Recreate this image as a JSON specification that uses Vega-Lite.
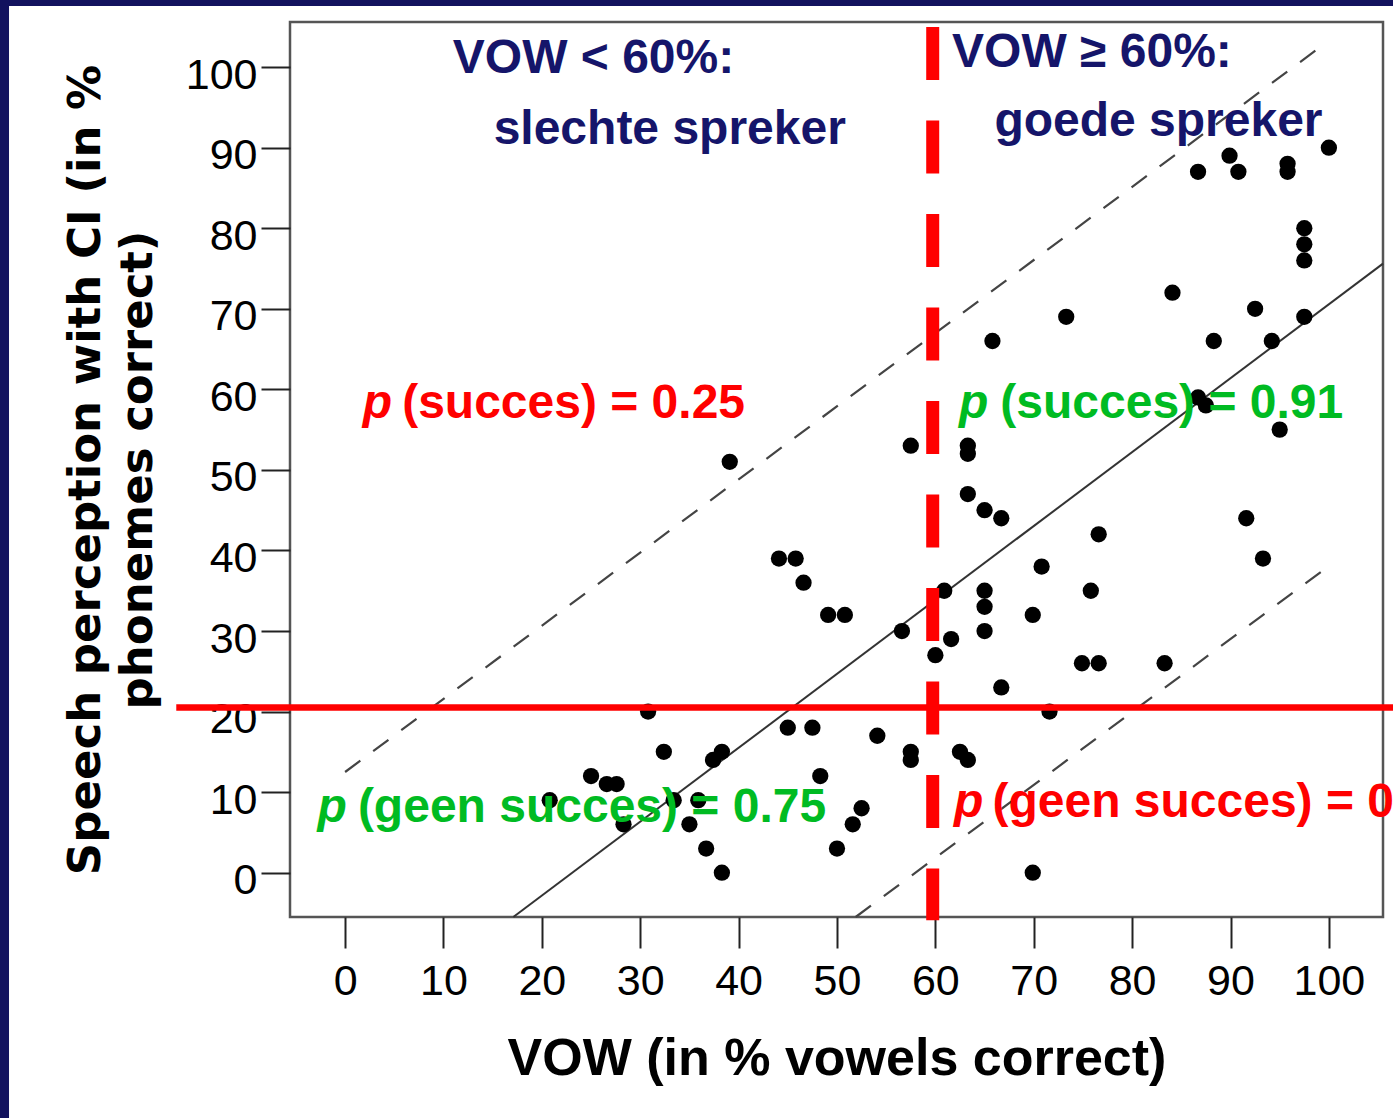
{
  "$schema": "https://vega.github.io/schema/vega-lite/v6.json",
  "width": 1093,
  "height": 895,
  "autosize": {"type": "none"},
  "padding": {"left": 290, "top": 22, "right": 10, "bottom": 201},
  "background": "white",
  "datasets": {
    "points": [
      {"vow": 39.1, "perc": 51}, {"vow": 57.5, "perc": 53}, {"vow": 44.1, "perc": 39}, {"vow": 45.8, "perc": 39},
      {"vow": 46.6, "perc": 36}, {"vow": 49.1, "perc": 32}, {"vow": 50.8, "perc": 32}, {"vow": 56.6, "perc": 30},
      {"vow": 60.0, "perc": 27}, {"vow": 30.8, "perc": 20}, {"vow": 45.0, "perc": 18}, {"vow": 47.5, "perc": 18},
      {"vow": 54.1, "perc": 17}, {"vow": 32.4, "perc": 15}, {"vow": 38.3, "perc": 15}, {"vow": 37.4, "perc": 14},
      {"vow": 57.5, "perc": 15}, {"vow": 57.5, "perc": 14}, {"vow": 25.0, "perc": 12}, {"vow": 26.6, "perc": 11},
      {"vow": 27.6, "perc": 11}, {"vow": 48.3, "perc": 12}, {"vow": 20.8, "perc": 9}, {"vow": 33.4, "perc": 9},
      {"vow": 35.9, "perc": 9}, {"vow": 28.3, "perc": 6}, {"vow": 35.0, "perc": 6}, {"vow": 52.5, "perc": 8},
      {"vow": 51.6, "perc": 6}, {"vow": 36.7, "perc": 3}, {"vow": 50.0, "perc": 3}, {"vow": 38.3, "perc": 0},
      {"vow": 63.3, "perc": 53}, {"vow": 63.3, "perc": 52}, {"vow": 95.0, "perc": 55}, {"vow": 63.3, "perc": 47},
      {"vow": 65.0, "perc": 45}, {"vow": 66.7, "perc": 44}, {"vow": 91.6, "perc": 44}, {"vow": 76.6, "perc": 42},
      {"vow": 93.3, "perc": 39}, {"vow": 70.8, "perc": 38}, {"vow": 60.9, "perc": 35}, {"vow": 65.0, "perc": 35},
      {"vow": 65.0, "perc": 33}, {"vow": 75.8, "perc": 35}, {"vow": 69.9, "perc": 32}, {"vow": 61.6, "perc": 29},
      {"vow": 65.0, "perc": 30}, {"vow": 74.9, "perc": 26}, {"vow": 76.6, "perc": 26}, {"vow": 83.3, "perc": 26},
      {"vow": 66.7, "perc": 23}, {"vow": 71.6, "perc": 20}, {"vow": 62.5, "perc": 15}, {"vow": 63.3, "perc": 14},
      {"vow": 69.9, "perc": 0}, {"vow": 100.0, "perc": 90}, {"vow": 89.9, "perc": 89}, {"vow": 86.7, "perc": 87},
      {"vow": 90.8, "perc": 87}, {"vow": 95.8, "perc": 88}, {"vow": 95.8, "perc": 87}, {"vow": 97.5, "perc": 80},
      {"vow": 97.5, "perc": 78}, {"vow": 97.5, "perc": 76}, {"vow": 84.1, "perc": 72}, {"vow": 92.5, "perc": 70},
      {"vow": 73.3, "perc": 69}, {"vow": 97.5, "perc": 69}, {"vow": 65.8, "perc": 66}, {"vow": 88.3, "perc": 66},
      {"vow": 94.2, "perc": 66}, {"vow": 86.7, "perc": 59}, {"vow": 87.5, "perc": 58}
    ],
    "fits": [
      {"line": "fit", "vow": 17.1, "perc": -5.5}, {"line": "fit", "vow": 105.5, "perc": 75.6},
      {"line": "upper", "vow": 0, "perc": 12.5}, {"line": "upper", "vow": 99.9, "perc": 103.2},
      {"line": "lower", "vow": 51.9, "perc": -5.5}, {"line": "lower", "vow": 99.7, "perc": 37.8}
    ],
    "one": [{}]
  },
  "layer": [
    {
      "data": {"name": "one"},
      "mark": {"type": "rect", "color": "#12125e"},
      "encoding": {
        "x": {"datum": -40, "type": "quantitative"}, "x2": {"datum": -34.16},
        "y": {"datum": -40, "type": "quantitative"}, "y2": {"datum": 115}
      }
    },
    {
      "data": {"name": "one"},
      "mark": {"type": "rect", "color": "#12125e"},
      "encoding": {
        "x": {"datum": -40, "type": "quantitative"}, "x2": {"datum": 115},
        "y": {"datum": 107.6, "type": "quantitative"}, "y2": {"datum": 115}
      }
    },
    {
      "data": {"name": "fits"},
      "transform": [{"filter": "datum.line === 'fit'"}],
      "mark": {"type": "line", "color": "#333333", "strokeWidth": 2},
      "encoding": {
        "x": {"field": "vow", "type": "quantitative"},
        "y": {"field": "perc", "type": "quantitative"},
        "detail": {"field": "line"}
      }
    },
    {
      "data": {"name": "fits"},
      "transform": [{"filter": "datum.line !== 'fit'"}],
      "mark": {"type": "line", "color": "#444444", "strokeWidth": 2.2, "strokeDash": [19, 16]},
      "encoding": {
        "x": {"field": "vow", "type": "quantitative"},
        "y": {"field": "perc", "type": "quantitative"},
        "detail": {"field": "line"}
      }
    },
    {
      "data": {"name": "points"},
      "mark": {"type": "circle", "color": "#000000", "size": 265, "opacity": 1},
      "encoding": {
        "x": {
          "field": "vow", "type": "quantitative",
          "scale": {"domain": [-5.6, 105.5], "nice": false, "zero": false},
          "axis": {"title": "VOW (in % vowels correct)", "values": [0, 10, 20, 30, 40, 50, 60, 70, 80, 90, 100]}
        },
        "y": {
          "field": "perc", "type": "quantitative",
          "scale": {"domain": [-5.5, 105.6], "nice": false, "zero": false},
          "axis": {"title": ["Speech perception with CI (in %", "phonemes correct)"], "values": [0, 10, 20, 30, 40, 50, 60, 70, 80, 90, 100]}
        }
      }
    },
    {
      "data": {"name": "one"},
      "mark": {"type": "rule", "color": "#ff0000", "strokeWidth": 6.5},
      "encoding": {
        "x": {"datum": -17.16, "type": "quantitative"}, "x2": {"datum": 115},
        "y": {"datum": 20.52, "type": "quantitative"}
      }
    },
    {
      "data": {"name": "one"},
      "mark": {"type": "rule", "color": "#ff0000", "strokeWidth": 13, "strokeDash": [53, 40.5], "strokeCap": "butt"},
      "encoding": {
        "x": {"datum": 59.73, "type": "quantitative"},
        "y": {"datum": 104.97, "type": "quantitative"}, "y2": {"datum": -5.9}
      }
    },
    {
      "data": {"name": "one"},
      "mark": {"type": "text", "text": "VOW < 60%:", "align": "left", "baseline": "alphabetic", "font": "Liberation Sans", "fontWeight": "bold", "fontSize": 48, "color": "#15156a"},
      "encoding": {"x": {"datum": 10.95, "type": "quantitative"}, "y": {"datum": 99.3, "type": "quantitative"}}
    },
    {
      "data": {"name": "one"},
      "mark": {"type": "text", "text": "slechte spreker", "align": "left", "baseline": "alphabetic", "font": "Liberation Sans", "fontWeight": "bold", "fontSize": 48, "color": "#15156a"},
      "encoding": {"x": {"datum": 15.1, "type": "quantitative"}, "y": {"datum": 90.5, "type": "quantitative"}}
    },
    {
      "data": {"name": "one"},
      "mark": {"type": "text", "text": "VOW ≥ 60%:", "align": "left", "baseline": "alphabetic", "font": "Liberation Sans", "fontWeight": "bold", "fontSize": 48, "color": "#15156a"},
      "encoding": {"x": {"datum": 61.7, "type": "quantitative"}, "y": {"datum": 100.0, "type": "quantitative"}}
    },
    {
      "data": {"name": "one"},
      "mark": {"type": "text", "text": "goede spreker", "align": "left", "baseline": "alphabetic", "font": "Liberation Sans", "fontWeight": "bold", "fontSize": 48, "color": "#15156a"},
      "encoding": {"x": {"datum": 66.0, "type": "quantitative"}, "y": {"datum": 91.5, "type": "quantitative"}}
    },
    {
      "data": {"name": "one"},
      "mark": {"type": "text", "text": "p", "align": "left", "baseline": "alphabetic", "font": "Liberation Sans", "fontWeight": "bold", "fontStyle": "italic", "fontSize": 48, "color": "#ff0000"},
      "encoding": {"x": {"datum": 1.8, "type": "quantitative"}, "y": {"datum": 56.4, "type": "quantitative"}}
    },
    {
      "data": {"name": "one"},
      "mark": {"type": "text", "text": "(succes) = 0.25", "align": "left", "baseline": "alphabetic", "font": "Liberation Sans", "fontWeight": "bold", "fontSize": 48, "color": "#ff0000"},
      "encoding": {"x": {"datum": 5.8, "type": "quantitative"}, "y": {"datum": 56.4, "type": "quantitative"}}
    },
    {
      "data": {"name": "one"},
      "mark": {"type": "text", "text": "p", "align": "left", "baseline": "alphabetic", "font": "Liberation Sans", "fontWeight": "bold", "fontStyle": "italic", "fontSize": 48, "color": "#00bb22"},
      "encoding": {"x": {"datum": 62.4, "type": "quantitative"}, "y": {"datum": 56.4, "type": "quantitative"}}
    },
    {
      "data": {"name": "one"},
      "mark": {"type": "text", "text": "(succes) = 0.91", "align": "left", "baseline": "alphabetic", "font": "Liberation Sans", "fontWeight": "bold", "fontSize": 48, "color": "#00bb22"},
      "encoding": {"x": {"datum": 66.6, "type": "quantitative"}, "y": {"datum": 56.4, "type": "quantitative"}}
    },
    {
      "data": {"name": "one"},
      "mark": {"type": "text", "text": "p", "align": "left", "baseline": "alphabetic", "font": "Liberation Sans", "fontWeight": "bold", "fontStyle": "italic", "fontSize": 48, "color": "#00bb22"},
      "encoding": {"x": {"datum": -2.8, "type": "quantitative"}, "y": {"datum": 6.3, "type": "quantitative"}}
    },
    {
      "data": {"name": "one"},
      "mark": {"type": "text", "text": "(geen succes) = 0.75", "align": "left", "baseline": "alphabetic", "font": "Liberation Sans", "fontWeight": "bold", "fontSize": 48, "color": "#00bb22"},
      "encoding": {"x": {"datum": 1.3, "type": "quantitative"}, "y": {"datum": 6.3, "type": "quantitative"}}
    },
    {
      "data": {"name": "one"},
      "mark": {"type": "text", "text": "p", "align": "left", "baseline": "alphabetic", "font": "Liberation Sans", "fontWeight": "bold", "fontStyle": "italic", "fontSize": 48, "color": "#ff0000"},
      "encoding": {"x": {"datum": 61.9, "type": "quantitative"}, "y": {"datum": 6.9, "type": "quantitative"}}
    },
    {
      "data": {"name": "one"},
      "mark": {"type": "text", "text": "(geen succes) = 0.09", "align": "left", "baseline": "alphabetic", "font": "Liberation Sans", "fontWeight": "bold", "fontSize": 48, "color": "#ff0000"},
      "encoding": {"x": {"datum": 65.8, "type": "quantitative"}, "y": {"datum": 6.9, "type": "quantitative"}}
    }
  ],
  "config": {
    "view": {"stroke": "#555555", "strokeWidth": 2.5},
    "axis": {
      "grid": false, "domain": false, "ticks": true, "tickWidth": 2, "tickColor": "#222222",
      "labelFont": "Liberation Sans", "labelFontSize": 43, "labelColor": "#000000",
      "labelFlush": false, "labelOverlap": false, "titleColor": "#000000"
    },
    "axisX": {
      "tickSize": 31, "labelPadding": 12,
      "titleFont": "Liberation Sans", "titleFontSize": 52, "titleFontWeight": "bold", "titlePadding": 30
    },
    "axisY": {
      "tickSize": 29, "labelPadding": 4, "labelOffset": 8,
      "titleFont": "DejaVu Sans", "titleFontSize": 45, "titleFontWeight": "bold", "titleLineHeight": 52, "titlePadding": 25
    }
  }
}
